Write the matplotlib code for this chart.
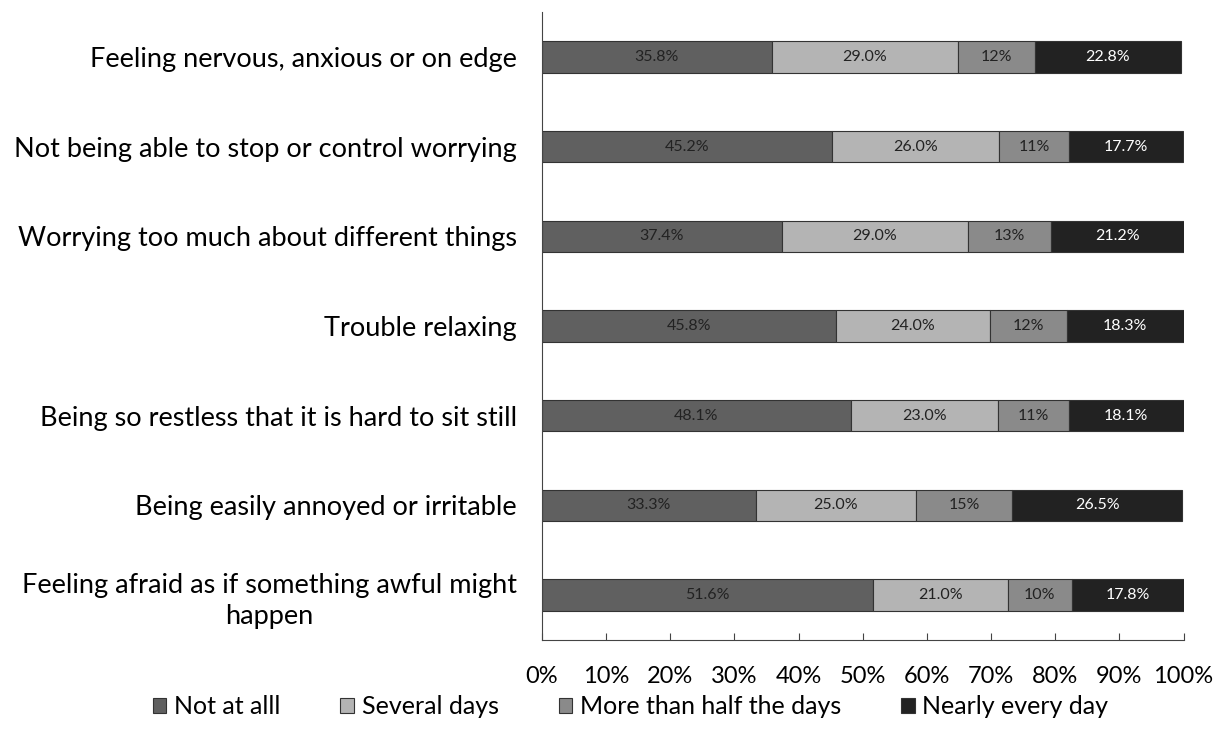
import matplotlib.pyplot as plt
import numpy as np

plt.rcParams['font.family'] = ['Lato', 'DejaVu Sans']

questions = [
    "Feeling nervous, anxious or on edge",
    "Not being able to stop or control worrying",
    "Worrying too much about different things",
    "Trouble relaxing",
    "Being so restless that it is hard to sit still",
    "Being easily annoyed or irritable",
    "Feeling afraid as if something awful might\nhappen",
]
not_at_all = [35.8, 45.2, 37.4, 45.8, 48.1, 33.3, 51.6]
several_days = [29.0, 26.0, 29.0, 24.0, 23.0, 25.0, 21.0]
more_than_half = [12, 11, 13, 12, 11, 15, 10]
nearly_every_day = [22.8, 17.7, 21.2, 18.3, 18.1, 26.5, 17.8]

series = [
    ("Not at alll", not_at_all, "#606060", "#222222", "{:.1f}%"),
    ("Several days", several_days, "#b4b4b4", "#222222", "{:.1f}%"),
    ("More than half the days", more_than_half, "#8a8a8a", "#222222", "{:.0f}%"),
    ("Nearly every day", nearly_every_day, "#222222", "white", "{:.1f}%"),
]

fig = plt.figure(figsize=(12.29, 7.46), dpi=100)
ax = fig.add_axes([0.441, 0.142, 0.522, 0.842])

y = np.arange(len(questions))
left = np.zeros(len(questions))
for name, vals, color, txt, fmt in series:
    vals = np.array(vals, dtype=float)
    bars = ax.barh(y, vals, left=left, height=0.35, color=color,
                   edgecolor="#333333", linewidth=0.8, label=name)
    ax.bar_label(bars, labels=[fmt.format(v) for v in vals], label_type="center",
                 color=txt, fontsize=11.5)
    left += vals

ax.set_ylim(len(questions) - 0.5, -0.5)
ax.set_xlim(0, 100)
ax.set_yticks(y)
ax.set_yticklabels(questions, fontsize=19.5, ha="right", multialignment="center",
                   linespacing=1.3)
ax.tick_params(axis="y", length=0, pad=18)
ax.set_xticks(np.arange(0, 101, 10))
ax.set_xticklabels([f"{v}%" for v in range(0, 101, 10)], fontsize=17)
ax.tick_params(axis="x", direction="in", length=5, pad=19, color="#444444")

for side in ("top", "right"):
    ax.spines[side].set_visible(False)
for side in ("left", "bottom"):
    ax.spines[side].set_color("#444444")
    ax.spines[side].set_linewidth(0.8)

fig.legend(loc="center", bbox_to_anchor=(0.513, 0.053), ncol=4, frameon=False,
           fontsize=18, handlelength=0.55, handleheight=0.55, handletextpad=0.3,
           columnspacing=2.4)

fig.savefig("out.png", dpi=100)
